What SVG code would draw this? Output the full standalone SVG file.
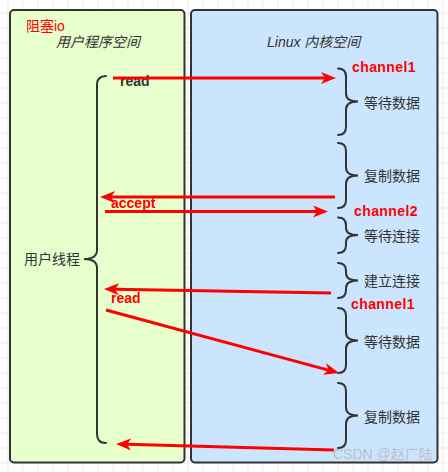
<svg xmlns="http://www.w3.org/2000/svg" width="448" height="472" viewBox="0 0 448 472">
<style>
.panel{stroke:#333;stroke-width:2}
.brace{fill:none;stroke:#333;stroke-width:2;stroke-linecap:round}
.t{font-family:"Liberation Sans","Noto Sans CJK SC",sans-serif;font-size:14px;fill:#333}
.it{font-style:italic}
.red{fill:#ff0000;font-weight:bold}
.ch{letter-spacing:0.4px}
.arr{fill:none;stroke:#ff0000;stroke-width:3;marker-end:url(#ah)}
</style>
<defs>
<pattern id="grid" patternUnits="userSpaceOnUse" x="7.5" y="12.5" width="15" height="15">
<path d="M0.5,0 V15 M0,0.5 H15" stroke="#ebebeb" stroke-width="1" fill="none"/>
</pattern>
<marker id="ah" viewBox="0 0 15 12" refX="4" refY="6" markerWidth="15" markerHeight="12" markerUnits="userSpaceOnUse" orient="auto">
<path d="M0,0 L15,6 L0,12 L4,6 Z" fill="#ff0000"/>
</marker>
</defs>
<rect width="448" height="472" fill="#ffffff"/>
<rect width="448" height="472" fill="url(#grid)"/>

<g id="user-space">
<rect class="panel" x="10" y="10" width="174.5" height="452.5" rx="4" fill="#e6ffcc"/>
<text class="t" x="26" y="31" fill="#ff0000" style="fill:#ff0000">阻塞io</text>
<text class="t it" x="56" y="47">用户程序空间</text>
</g>

<g id="kernel-space">
<rect class="panel" x="191" y="10" width="246.5" height="452.5" rx="4" fill="#cce5ff"/>
<text class="t it" x="267" y="47">Linux 内核空间</text>
</g>

<g id="user-thread">
<path class="brace" d="M106,76 Q97,76 97,85 L97,250 Q97,259 84,259 Q97,259 97,268 L97,434 Q97,443 106,443"/>
<text class="t" x="24" y="264">用户线程</text>
</g>

<g id="wait-data-1">
<path class="brace" d="M338,68.5 Q346,68.5 346,76.5 L346,93.5 Q346,101.5 358,101.5 Q346,101.5 346,109.5 L346,127 Q346,135 338,135"/>
<text class="t" x="364" y="108">等待数据</text>
</g>

<g id="copy-data-1">
<path class="brace" d="M338,143 Q346,143 346,151 L346,167.5 Q346,175.5 358,175.5 Q346,175.5 346,183.5 L346,200 Q346,208 338,208"/>
<text class="t" x="364" y="181">复制数据</text>
</g>

<g id="wait-conn">
<path class="brace" d="M338,217.5 Q346,217.5 346,225.5 L346,228 Q346,235 358,235 Q346,235 346,242 L346,245 Q346,253 338,253"/>
<text class="t" x="364" y="241">等待连接</text>
</g>

<g id="build-conn">
<path class="brace" d="M338,263 Q346,263 346,271 L346,273 Q346,280.5 358,280.5 Q346,280.5 346,288 L346,290 Q346,298 338,298"/>
<text class="t" x="364" y="286">建立连接</text>
</g>

<g id="wait-data-2">
<path class="brace" d="M338,308 Q346,308 346,316 L346,332.5 Q346,340.5 358,340.5 Q346,340.5 346,348.5 L346,365 Q346,373 338,373"/>
<text class="t" x="364" y="347">等待数据</text>
</g>

<g id="copy-data-2">
<path class="brace" d="M338,383 Q346,383 346,391 L346,407.5 Q346,415.5 358,415.5 Q346,415.5 346,423.5 L346,440 Q346,448 338,448"/>
<text class="t" x="364" y="422">复制数据</text>
</g>

<g id="labels">
<text class="t" x="120" y="86" style="font-weight:bold">read</text>
<text class="t red ch" x="352" y="71.5">channel1</text>
<text class="t red" x="111" y="207.5">accept</text>
<text class="t red ch" x="354" y="215.5">channel2</text>
<text class="t red" x="111" y="302.5">read</text>
<text class="t red ch" x="351" y="309">channel1</text>
</g>

<g id="connectors">
<line class="arr" x1="113" y1="78" x2="325" y2="78"/>
<line class="arr" x1="335" y1="197" x2="111" y2="197"/>
<line class="arr" x1="105" y1="211.5" x2="317" y2="211.5"/>
<line class="arr" x1="331" y1="293" x2="115" y2="289.2"/>
<line class="arr" x1="106" y1="310" x2="328.4" y2="370.1"/>
<line class="arr" x1="334" y1="450" x2="127" y2="444.3"/>
</g>

<text class="t" x="333" y="459" style="fill:#b8b8b8;fill-opacity:0.85">CSDN @赵广陆</text>
</svg>
